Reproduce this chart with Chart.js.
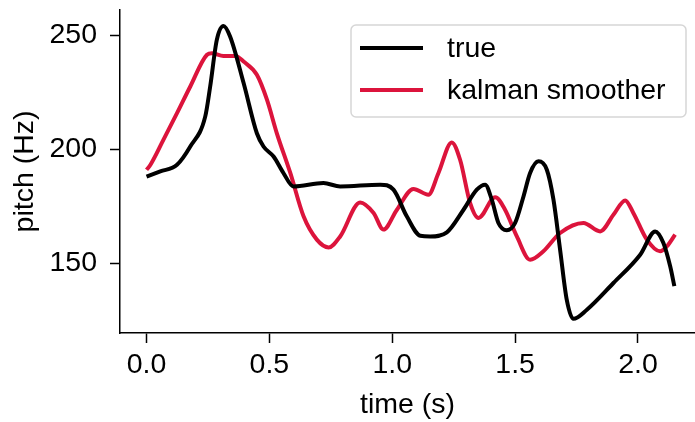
<!DOCTYPE html>
<html>
<head>
<meta charset="utf-8">
<script src="https://cdn.jsdelivr.net/npm/chart.js@4/dist/chart.umd.min.js"></script>
<style>
  html, body { margin: 0; padding: 0; background: #fff; }
  #wrap { width: 695px; height: 422px; }
</style>
</head>
<body>
<div id="wrap"><canvas id="chart"></canvas></div>
<script>
// true pitch track (time in s, pitch in Hz)
const trueTime = [0, 0.056, 0.124, 0.178, 0.239, 0.259, 0.286, 0.313, 0.34, 0.395, 0.449, 0.476, 0.517, 0.557, 0.598,
  0.72, 0.788, 0.951, 1.005, 1.059, 1.114, 1.154, 1.222, 1.29, 1.344, 1.378, 1.405, 1.432, 1.466, 1.5, 1.534, 1.561,
  1.595, 1.629, 1.656, 1.683, 1.71, 1.737, 1.792, 1.9, 2.009, 2.07, 2.103, 2.131, 2.148];
const truePitch = [188, 190.3, 193.2, 201.2, 214.4, 227.5, 247.9, 254, 249.4, 229, 207, 201.2, 196.8, 189.6, 183.7,
  185.2, 183.7, 184.5, 182.3, 170.6, 162.1, 161.8, 163.6, 173.5, 182.3, 184.5, 177.9, 167.7, 164.5, 167.7, 179.3, 189.6,
  194.7, 191, 177.9, 156, 134.1, 125.7, 129.7, 141.4, 153.8, 164, 159, 148.7, 140];

// kalman smoother estimate
const kalmanTime = [0, 0.016, 0.069, 0.124, 0.178, 0.246, 0.266, 0.313, 0.361, 0.395, 0.449, 0.49, 0.53, 0.585,
  0.639, 0.693, 0.741, 0.788, 0.869, 0.924, 0.964, 1.019, 1.086, 1.147, 1.188, 1.242, 1.276, 1.317, 1.351, 1.419,
  1.459, 1.507, 1.561, 1.615, 1.683, 1.778, 1.846, 1.9, 1.948, 1.981, 2.036, 2.09, 2.117, 2.151];
const kalmanPitch = [191, 193.2, 204.2, 215.8, 227.5, 241.4, 242.1, 240.9, 240.9, 238.4, 232.6, 221.7, 207.1, 189.6,
  170.6, 160.4, 157, 161.8, 176.7, 172.1, 164.8, 173.5, 182.6, 180.1, 189.6, 203, 195.4, 176.4, 169.9, 179,
  173.5, 161.8, 151.6, 155.3, 163.3, 167.7, 164, 171.3, 177.6, 172.1, 160.4, 155.3, 157.4, 162.6];

const xTicks = [0, 0.5, 1.0, 1.5, 2.0];
const yTicks = [150, 200, 250];

const FONT = '"Liberation Sans", Arial, Helvetica, sans-serif';
const FSIZE = 28.5;
const RED = '#dc143c';

function toPoints(xs, ys) {
  return xs.map((x, i) => ({ x: x, y: ys[i] }));
}

// legend box drawn inside the plot, upper right
const boxLegend = {
  id: 'boxLegend',
  afterDraw(chart) {
    const ctx = chart.ctx;
    const x0 = 351, y0 = 25, w = 335, h = 92;
    ctx.save();
    ctx.beginPath();
    ctx.roundRect(x0, y0, w, h, 5);
    ctx.fillStyle = 'rgba(255,255,255,0.8)';
    ctx.fill();
    ctx.lineWidth = 1.5;
    ctx.strokeStyle = '#d6d6d6';
    ctx.stroke();
    ctx.font = FSIZE + 'px ' + FONT;
    ctx.textBaseline = 'middle';
    chart.data.datasets.forEach((ds, i) => {
      const y = 48 + i * 42;
      ctx.beginPath();
      ctx.moveTo(360, y);
      ctx.lineTo(423, y);
      ctx.lineWidth = 4;
      ctx.strokeStyle = ds.borderColor;
      ctx.stroke();
      ctx.fillStyle = '#000';
      ctx.fillText(ds.label, 447, y + 1);
    });
    ctx.restore();
  }
};

new Chart(document.getElementById('chart'), {
  type: 'line',
  data: {
    datasets: [{
      label: 'true',
      data: toPoints(trueTime, truePitch),
      borderColor: '#000',
      borderWidth: 4,
      pointRadius: 0,
      cubicInterpolationMode: 'monotone'
    }, {
      label: 'kalman smoother',
      data: toPoints(kalmanTime, kalmanPitch),
      borderColor: RED,
      borderWidth: 4,
      pointRadius: 0,
      cubicInterpolationMode: 'monotone'
    }]
  },
  options: {
    responsive: true,
    maintainAspectRatio: false,
    animation: false,
    layout: { padding: { top: 10, right: 0, bottom: 0, left: 0 } },
    plugins: {
      legend: { display: false },
      tooltip: { enabled: false }
    },
    scales: {
      x: {
        type: 'linear',
        min: -0.108,
        max: 2.232,
        afterFit: s => { s.height = 89; s.paddingLeft = 0; s.paddingRight = 0; },
        afterBuildTicks: s => { s.ticks = xTicks.map(v => ({ value: v })); },
        grid: { drawOnChartArea: false, drawTicks: true, tickLength: 10, tickColor: '#000', tickWidth: 1.5 },
        border: { color: '#000', width: 1.5 },
        ticks: {
          color: '#000',
          font: { family: FONT, size: FSIZE },
          padding: 5,
          maxRotation: 0,
          callback: v => v.toFixed(1)
        },
        title: {
          display: true,
          text: 'time (s)',
          color: '#000',
          font: { family: FONT, size: FSIZE },
          padding: { top: 0, bottom: 0 }
        }
      },
      y: {
        min: 119.5,
        max: 261,
        afterFit: s => { s.width = 120; s.paddingTop = 0; s.paddingBottom = 0; },
        afterBuildTicks: s => { s.ticks = yTicks.map(v => ({ value: v })); },
        grid: { drawOnChartArea: false, drawTicks: true, tickLength: 10, tickColor: '#000', tickWidth: 1.5 },
        border: { color: '#000', width: 1.5 },
        ticks: {
          color: '#000',
          font: { family: FONT, size: FSIZE },
          padding: 13
        },
        title: {
          display: true,
          text: 'pitch (Hz)',
          color: '#000',
          font: { family: FONT, size: FSIZE },
          padding: { top: 8, bottom: 0 }
        }
      }
    }
  },
  plugins: [boxLegend]
});
</script>
</body>
</html>
